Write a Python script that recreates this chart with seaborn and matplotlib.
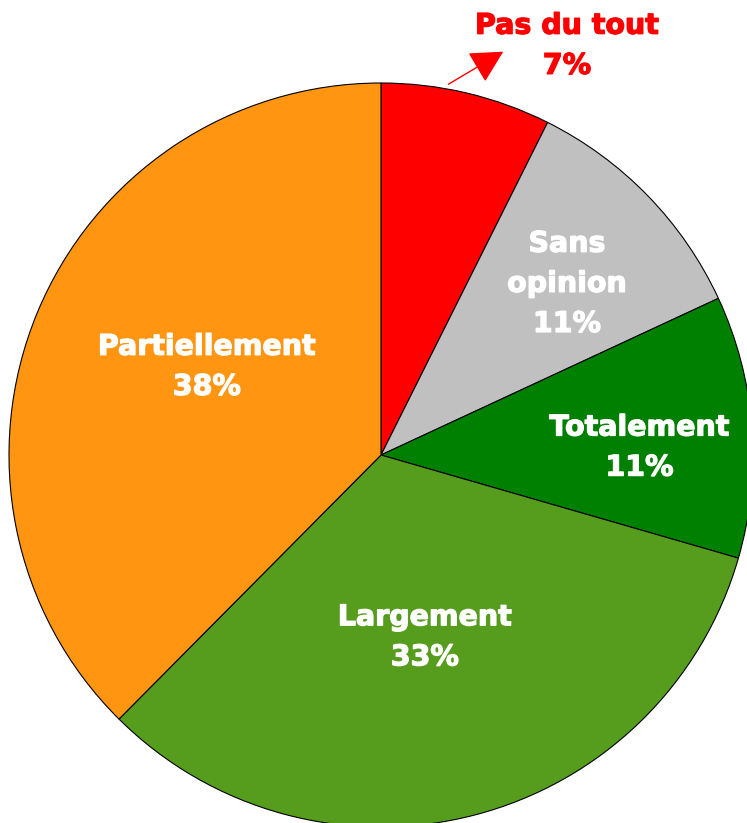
import matplotlib
matplotlib.use("Agg")
import matplotlib.pyplot as plt
import matplotlib.patheffects as pe
import seaborn as sns

# Chart data
categories = ["Pas du tout", "Sans\nopinion", "Totalement", "Largement", "Partiellement"]
shares = [7.4, 10.7, 11.4, 33.0, 37.6]
pct_labels = ["7%", "11%", "11%", "33%", "38%"]
slice_colors = ["#FF0000", "#C0C0C0", "#008000", "#569D1E", "#FF9511"]

# label positions in pie units (radius = 1)
label_pos = [(0.50, 1.10), (0.50, 0.46), (0.695, 0.02), (0.118, -0.49), (-0.468, 0.237)]
label_colors = ["#FF0000", "white", "white", "white", "white"]

sns.set_theme(style="white")
plt.rcParams["font.family"] = ["DejaVu Sans"]

fig = plt.figure(figsize=(7.47, 8.23), dpi=100)
ax = fig.add_axes([0, 0, 1, 1])

wedges, _ = ax.pie(
    shares,
    colors=slice_colors,
    startangle=90,
    counterclock=False,
    radius=1.0,
    wedgeprops=dict(edgecolor="black", linewidth=0.8),
)

for name, pct, (x, y), col in zip(categories, pct_labels, label_pos, label_colors):
    ax.text(x, y, f"{name}\n{pct}", ha="center", va="center", color=col,
            fontsize=20.5, fontweight="bold", linespacing=1.55,
            path_effects=[pe.withStroke(linewidth=0.9, foreground=col)])

# arrow pointing to the small red slice
ax.annotate("", xy=(0.335, 1.088), xytext=(0.175, 0.993),
            arrowprops=dict(arrowstyle="-|>,head_length=1.7,head_width=0.9",
                            color="#FF0000", lw=1.0))

# scale: centre at pixel (381, 455), radius 372 px
r_px = 372.0
ax.set_xlim(-381 / r_px, (747 - 381) / r_px)
ax.set_ylim(-(823 - 455) / r_px, 455 / r_px)
ax.set_aspect("auto")
ax.axis("off")

fig.savefig("out.png", dpi=100, facecolor="white")
